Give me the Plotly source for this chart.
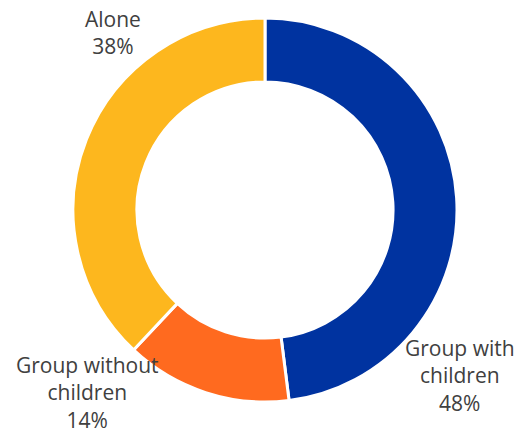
import plotly.graph_objects as go

categories = ["Group with children", "Group without children", "Alone"]
label_text = ["Group with<br>children", "Group without<br>children", "Alone"]
values = [48, 14, 38]
colors = ["#0033A0", "#FF6A1F", "#FDB71E"]

W, H = 527, 428
cx, cy, R = 265, 210, 192

fig = go.Figure(go.Pie(
    labels=categories,
    values=values,
    hole=0.667,
    sort=False,
    direction="clockwise",
    rotation=0,
    marker=dict(colors=colors, line=dict(color="white", width=3)),
    textinfo="none",
    hoverinfo="label+percent",
    showlegend=False,
    domain=dict(x=[(cx - R) / W, (cx + R) / W], y=[(H - cy - R) / H, (H - cy + R) / H]),
))

# label anchor positions (pixel centers) for each slice's text block
label_pos = [(460, 375), (87, 392), (113, 32)]
for txt, v, (x, y) in zip(label_text, values, label_pos):
    fig.add_annotation(
        x=x / W, y=1 - y / H, xref="paper", yref="paper",
        text=f"{txt}<br>{v}%", showarrow=False,
        font=dict(family="Open Sans", size=21, color="#404040"),
        align="center", xanchor="center", yanchor="middle",
    )

fig.update_layout(
    width=W, height=H,
    margin=dict(l=0, r=0, t=0, b=0),
    paper_bgcolor="white", plot_bgcolor="white",
)
fig.write_html("out.html")
